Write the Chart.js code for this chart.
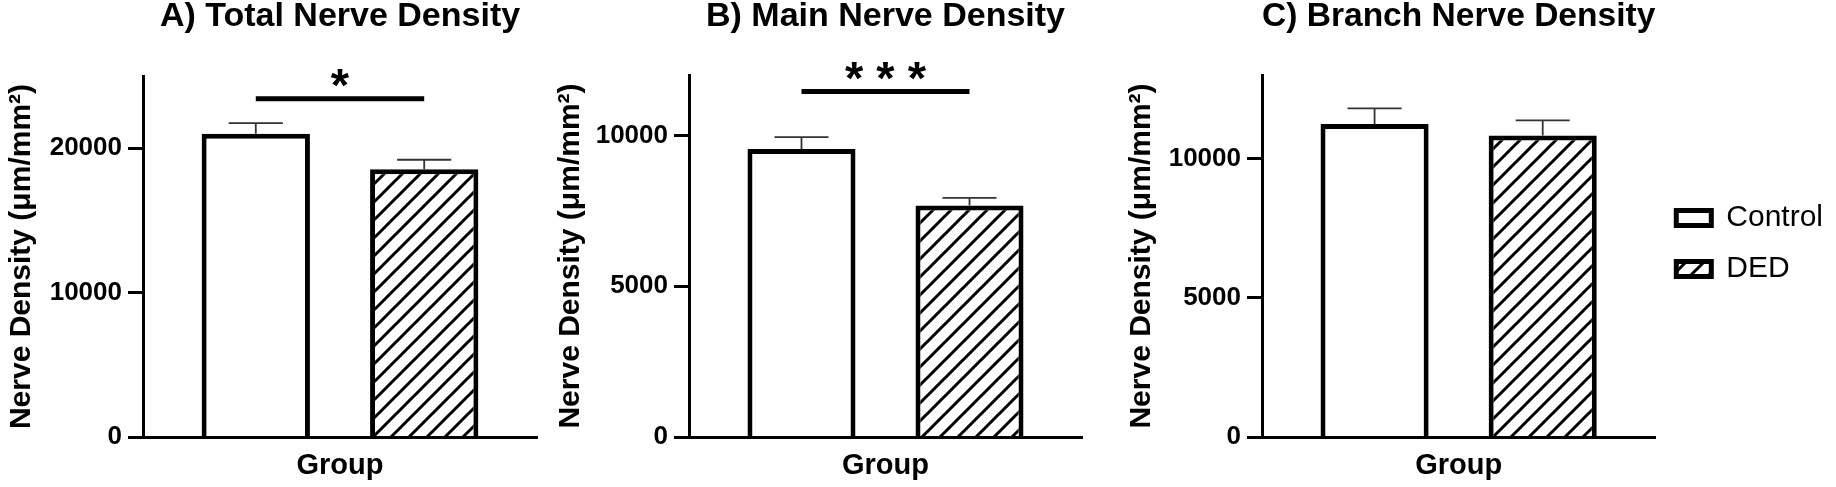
<!DOCTYPE html>
<html>
<head>
<meta charset="utf-8">
<script src="https://cdn.jsdelivr.net/npm/chart.js@4.4.1/dist/chart.umd.min.js"></script>
<style>
  html, body { margin: 0; padding: 0; background: #fff; }
  #wrap { position: relative; width: 1836px; height: 487px; overflow: hidden; background: #fff; }
  canvas { position: absolute; top: 0; }
</style>
</head>
<body>
<div id="wrap">
  <canvas id="panelA" width="549" height="487" style="left:0px"></canvas>
  <canvas id="panelB" width="545" height="487" style="left:549px"></canvas>
  <canvas id="panelC" width="713" height="487" style="left:1120px"></canvas>
</div>
<script>
// data
const groups = ['Control', 'DED'];
const category = ['Group'];

const totalMean = [21000, 18550];
const totalSem = [730, 650];
const totalTicks = [0, 10000, 20000];

const mainMean = [9550, 7670];
const mainSem = [390, 260];
const mainTicks = [0, 5000, 10000];

const branchMean = [11240, 10830];
const branchSem = [560, 540];
const branchTicks = [0, 5000, 10000];

const axisMax = [25000, 12000, 13000];
const sigLevel = [23430, 11450, null];
const sigStars = ['*', '* * *', ''];
const titles = ['A) Total Nerve Density', 'B) Main Nerve Density', 'C) Branch Nerve Density'];
const yTitle = 'Nerve Density (μm/mm²)';
const xTitle = 'Group';

const family = "'Liberation Sans', Arial, sans-serif";

function makeHatch() {
  const s = 18;
  const c = document.createElement('canvas');
  c.width = s; c.height = s;
  const g = c.getContext('2d');
  g.fillStyle = '#fff';
  g.fillRect(0, 0, s, s);
  g.strokeStyle = '#000';
  g.lineWidth = 3;
  g.beginPath();
  g.moveTo(0, s); g.lineTo(s, 0);
  g.moveTo(-s / 2, s / 2); g.lineTo(s / 2, -s / 2);
  g.moveTo(s / 2, s * 1.5); g.lineTo(s * 1.5, s / 2);
  g.stroke();
  return g.createPattern(c, 'repeat');
}
const hatch = makeHatch();

// SEM whiskers, only above the bar
const errorBars = {
  id: 'errorBars',
  afterDatasetsDraw(chart, args, opts) {
    const { ctx } = chart;
    const y = chart.scales.y;
    ctx.save();
    ctx.strokeStyle = '#333';
    ctx.lineWidth = 1.8;
    chart.data.datasets.forEach((ds, i) => {
      chart.getDatasetMeta(i).data.forEach((bar, j) => {
        const top = y.getPixelForValue(ds.data[j] + opts.sem[i]);
        const half = bar.width / 4;
        ctx.beginPath();
        ctx.moveTo(bar.x, bar.y);
        ctx.lineTo(bar.x, top);
        ctx.moveTo(bar.x - half, top);
        ctx.lineTo(bar.x + half, top);
        ctx.stroke();
      });
    });
    ctx.restore();
  }
};

// significance bracket
const sigBar = {
  id: 'sigBar',
  afterDraw(chart, args, opts) {
    if (!opts.stars) return;
    const { ctx } = chart;
    const y = chart.scales.y.getPixelForValue(opts.level);
    const x0 = chart.getDatasetMeta(0).data[0].x;
    const x1 = chart.getDatasetMeta(1).data[0].x;
    ctx.save();
    ctx.strokeStyle = '#000';
    ctx.lineWidth = 5;
    ctx.beginPath();
    ctx.moveTo(x0, y);
    ctx.lineTo(x1, y);
    ctx.stroke();
    ctx.fillStyle = '#000';
    ctx.font = 'bold 47px ' + family;
    ctx.textAlign = 'center';
    ctx.textBaseline = 'alphabetic';
    ctx.fillText(opts.stars, (x0 + x1) / 2, y + 2);
    ctx.restore();
  }
};

function makePanel(id, p) {
  return new Chart(document.getElementById(id), {
    type: 'bar',
    data: {
      labels: category,
      datasets: groups.map((g, i) => ({
        label: g,
        data: [p.mean[i]],
        backgroundColor: i === 0 ? '#ffffff' : hatch,
        borderColor: '#000',
        borderWidth: 5,
        borderSkipped: 'start',
        categoryPercentage: 0.855,
        barPercentage: 0.643
      }))
    },
    options: {
      responsive: false,
      animation: false,
      devicePixelRatio: 1,
      layout: { padding: { left: 0, right: p.padRight, top: 0, bottom: 0 } },
      plugins: {
        title: {
          display: true,
          text: p.title,
          fullSize: false,
          color: '#000',
          font: { family, size: 34, weight: 'bold', lineHeight: 1 },
          padding: { top: 0, bottom: p.titleGap }
        },
        legend: p.legend ? {
          display: true,
          position: 'right',
          align: 'center',
          labels: {
            boxWidth: 35,
            boxHeight: 15,
            padding: 21,
            color: '#000',
            font: { family, size: 30 }
          }
        } : { display: false },
        tooltip: { enabled: false },
        errorBars: { sem: p.sem },
        sigBar: { level: p.sig, stars: p.stars }
      },
      scales: {
        x: {
          grid: { display: false },
          border: { display: true, color: '#000', width: 3, z: 1 },
          ticks: { display: false },
          title: {
            display: true,
            text: xTitle,
            color: '#000',
            font: { family, size: 29, weight: 'bold', lineHeight: 1 },
            padding: { top: 0, bottom: 6.5 }
          },
          afterFit: s => { s.height = 50; }
        },
        y: {
          min: 0,
          max: p.max,
          grid: { drawOnChartArea: false, drawTicks: true, tickLength: 15, tickWidth: 3, color: '#000' },
          border: { display: true, color: '#000', width: 3, z: 1 },
          ticks: {
            color: '#000',
            padding: 6,
            font: { family, size: 26, weight: 'bold' },
            callback: v => String(v)
          },
          afterBuildTicks: s => { s.ticks = p.ticks.map(v => ({ value: v })); },
          title: {
            display: true,
            text: yTitle,
            color: '#000',
            font: { family, size: 30, weight: 'bold', lineHeight: 1 },
            padding: { top: 7, bottom: 0 }
          },
          afterFit: s => { s.width = p.yWidth; }
        }
      }
    },
    plugins: [errorBars, sigBar]
  });
}

makePanel('panelA', {
  title: titles[0], mean: totalMean, sem: totalSem, ticks: totalTicks, max: axisMax[0],
  sig: sigLevel[0], stars: sigStars[0], yWidth: 143, padRight: 12, titleGap: 42, legend: false
});
makePanel('panelB', {
  title: titles[1], mean: mainMean, sem: mainSem, ticks: mainTicks, max: axisMax[1],
  sig: sigLevel[1], stars: sigStars[1], yWidth: 140, padRight: 12, titleGap: 41, legend: false
});
makePanel('panelC', {
  title: titles[2], mean: branchMean, sem: branchSem, ticks: branchTicks, max: axisMax[2],
  sig: sigLevel[2], stars: sigStars[2], yWidth: 142, padRight: 0, titleGap: 41, legend: true
});
</script>
</body>
</html>
